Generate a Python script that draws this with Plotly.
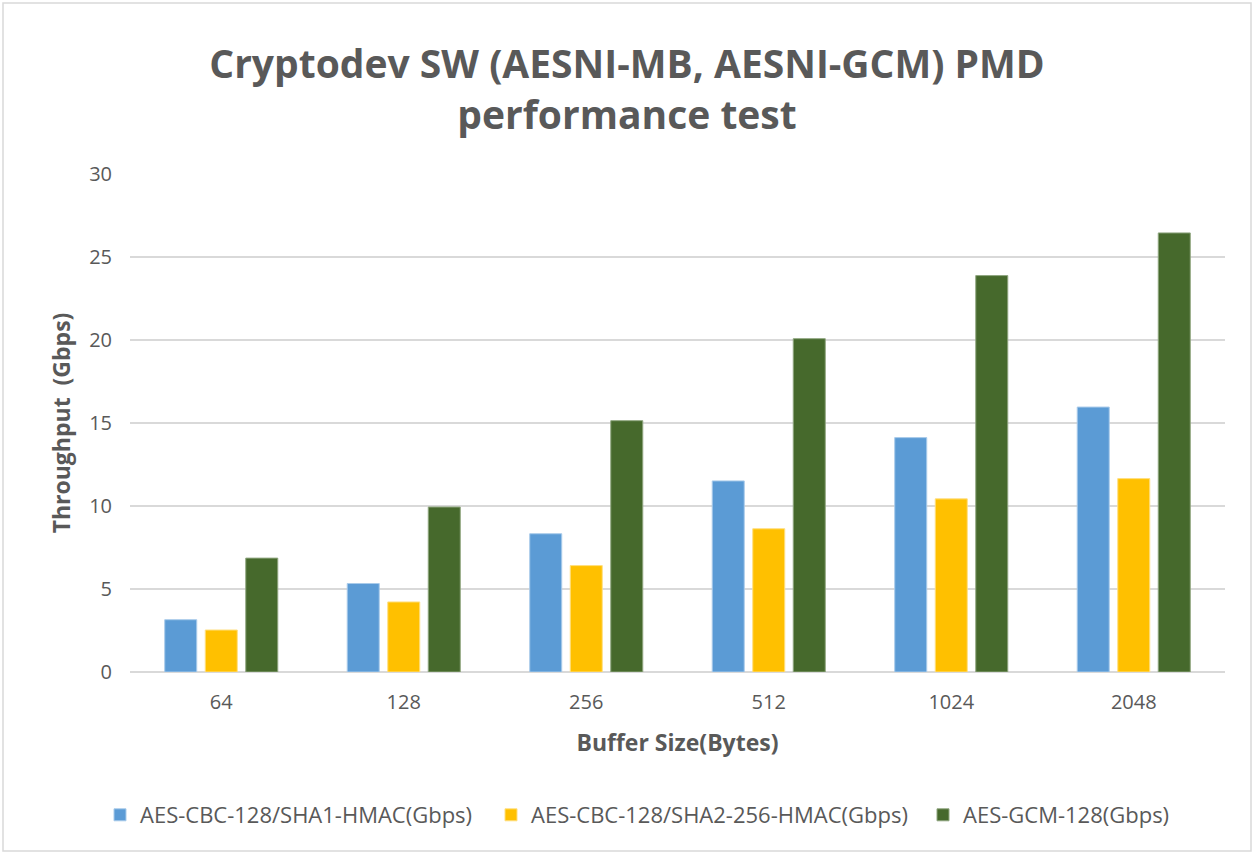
import plotly.graph_objects as go

categories = ["64", "128", "256", "512", "1024", "2048"]
sha1_hmac = [3.15, 5.33, 8.33, 11.51, 14.12, 15.96]
sha2_256_hmac = [2.53, 4.22, 6.41, 8.63, 10.43, 11.65]
gcm_128 = [6.86, 9.94, 15.14, 20.08, 23.88, 26.45]

series_names = [
    "AES-CBC-128/SHA1-HMAC(Gbps)",
    "AES-CBC-128/SHA2-256-HMAC(Gbps)",
    "AES-GCM-128(Gbps)",
]
series_colors = ["#5B9BD5", "#FFC000", "#46692C"]
series_lines = ["#A9CBEA", "#FFDF80", "#8FA67F"]
series_values = [sha1_hmac, sha2_256_hmac, gcm_128]

y_ticks = [0, 5, 10, 15, 20, 25, 30]

FONT = "Open Sans"
GRAY = "#595959"

W, H = 1254, 854
L, R, T, B = 130, 29, 174, 182
pw = W - L - R
ph = H - T - B

legend_ids = ["legend", "legend2", "legend3"]
legend_left_px = [100, 491, 923]

fig = go.Figure()
for name, vals, col, lc, lid in zip(series_names, series_values, series_colors,
                                     series_lines, legend_ids):
    fig.add_trace(go.Bar(
        x=categories, y=vals, name=name, legend=lid, showlegend=True,
        marker=dict(color=col, line=dict(color=lc, width=1)),
    ))

legend_layout = {}
for lid, px in zip(legend_ids, legend_left_px):
    legend_layout[lid] = dict(
        orientation="h", x=px / W, xanchor="left", xref="container",
        y=1 - 815 / H, yanchor="middle", yref="container",
        font=dict(size=22, color=GRAY), itemwidth=30,
        bgcolor="rgba(0,0,0,0)", visible=True,
    )

fig.update_layout(
    width=W, height=H,
    showlegend=True,
    margin=dict(l=L, r=R, t=T, b=B),
    paper_bgcolor="white", plot_bgcolor="white",
    barmode="group", bargap=0.334, bargroupgap=0.21,
    font=dict(family=FONT, color=GRAY),
    title=dict(
        text="Cryptodev SW (AESNI-MB, AESNI-GCM) PMD<br>performance test",
        x=0.5, xanchor="center", xref="container",
        y=1 - 78 / H, yanchor="middle", yref="container",
        font=dict(family=FONT, size=39, color=GRAY, weight="bold"),
    ),
    xaxis=dict(
        type="category",
        tickfont=dict(size=20, color=GRAY),
        showgrid=False, showline=False, ticks="",
        ticklabelstandoff=16,
        title=dict(text="Buffer Size(Bytes)", standoff=20,
                   font=dict(size=23, color=GRAY, weight="bold")),
    ),
    yaxis=dict(
        range=[0, 30], tickvals=y_ticks,
        tickfont=dict(size=20, color=GRAY),
        showgrid=True, gridcolor="#D9D9D9", gridwidth=1.5,
        zeroline=True, zerolinecolor="#D9D9D9", zerolinewidth=1.5,
        showline=False, ticks="", ticklabelstandoff=17,
        title=dict(text="Throughput  (Gbps)", standoff=12,
                   font=dict(size=23, color=GRAY, weight="bold")),
    ),
    shapes=[dict(
        type="rect", xref="paper", yref="paper",
        x0=(3 - L) / pw, x1=(W - 3 - L) / pw,
        y0=-(B - 3) / ph, y1=1 + (T - 3) / ph,
        line=dict(color="#D9D9D9", width=1.5), layer="below",
    )],
    **legend_layout,
)

fig.write_html("out.html", config={"displayModeBar": False},
               post_script="document.body.style.margin='0px';")
